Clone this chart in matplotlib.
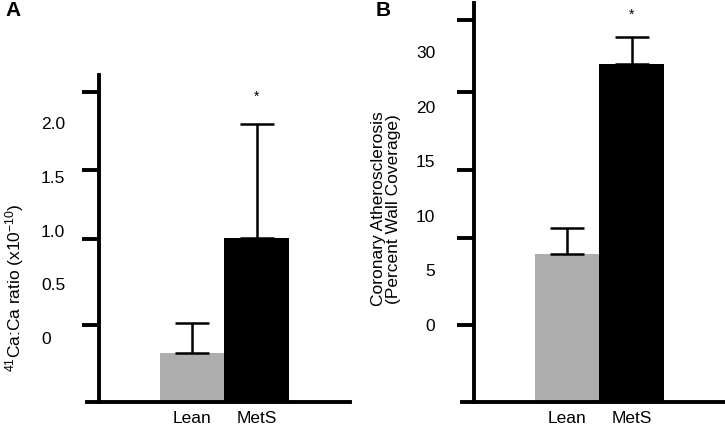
import numpy as np
import matplotlib
matplotlib.use("Agg")
import matplotlib.pyplot as plt

plt.rcParams['font.family'] = ['Liberation Sans', 'DejaVu Sans']
plt.rcParams['mathtext.fontset'] = 'custom'
plt.rcParams['mathtext.rm'] = 'Liberation Sans'
plt.rcParams['mathtext.it'] = 'Liberation Sans:italic'

groups = ["Lean", "MetS"]
bar_colors = ["#adadad", "#000000"]

# panel A: 41Ca:Ca ratio (values read on the printed label scale)
ca_mean = [-0.14, 0.93]
ca_err = [0.28, 1.06]
ca_ylim = (-0.595, 2.447)
ca_tick_marks = [0.121, 0.921, 1.563, 2.288]
ca_label_pos = [0, 0.5, 1.0, 1.5, 2.0]
ca_label_txt = ["0", "0.5", "1.0", "1.5", "2.0"]
ca_star = 2.242

# panel B: coronary atherosclerosis (% wall coverage)
ath_mean = [6.5, 23.9]
ath_err = [2.4, 2.5]
ath_ylim = (-7.06, 29.5)
ath_tick_marks = [0, 7.95, 14.22, 21.35, 27.92]
ath_label_pos = [0, 5, 10, 15, 20, 25]
ath_label_txt = ["0", "5", "10", "15", "20", "30"]
ath_star = 28.44

W, H = 725, 425
fig = plt.figure(figsize=(W / 100, H / 100), dpi=100)


def panel(left_px, top_px, mean, err, ylim, marks, lpos, ltxt, star, ha, pad):
    ax = fig.add_axes([left_px / W, (H - 402) / H, 263 / W, (402 - top_px) / H])
    x = np.arange(len(groups))
    mean = np.array(mean)
    ax.bar(x, mean - ylim[0], bottom=ylim[0], width=1.0, color=bar_colors,
           yerr=[np.zeros(len(err)), err], capsize=12,
           error_kw=dict(ecolor="black", elinewidth=1.8, capthick=1.8))
    ax.set_xlim(-1.63, 2.45)
    ax.set_ylim(*ylim)
    for s in ["top", "right"]:
        ax.spines[s].set_visible(False)
    ax.spines["left"].set_position(("data", -1.44))
    ax.spines["left"].set_linewidth(2.8)
    ax.spines["bottom"].set_linewidth(2.8)
    ax.set_xticks(x, labels=groups)
    ax.tick_params(axis="x", length=0, pad=6.5, labelsize=12.5)
    ax.yaxis.remove_overlapping_locs = False
    ax.set_yticks(marks, labels=[""] * len(marks))
    ax.tick_params(axis="y", which="major", length=12, width=2.8, direction="out")
    ax.set_yticks(lpos, labels=ltxt, minor=True)
    ax.tick_params(axis="y", which="minor", length=0, pad=pad, labelsize=12.5)
    for t in ax.get_yticklabels(minor=True):
        t.set_ha(ha)
    ax.text(1, star, "*", ha="center", va="center", fontsize=10)
    return ax


axA = panel(87, 75, ca_mean, ca_err, ca_ylim, ca_tick_marks,
            ca_label_pos, ca_label_txt, ca_star, "left", 42)
axB = panel(462, 3, ath_mean, ath_err, ath_ylim, ath_tick_marks,
            ath_label_pos, ath_label_txt, ath_star, "right", 28)

fig.text(15 / W, 1 - 288 / H, r"$^{41}$Ca:Ca ratio (x10$^{-10}$)",
         rotation=90, ha="center", va="center", fontsize=12.5)
fig.text(386 / W, 1 - 209 / H, "Coronary Atherosclerosis\n(Percent Wall Coverage)",
         rotation=90, ha="center", va="center", fontsize=12.5, linespacing=0.95)

fig.text(5 / W, 1 - 1 / H, "A", ha="left", va="top", fontsize=15, fontweight="bold")
fig.text(376 / W, 1 - 1 / H, "B", ha="left", va="top", fontsize=15, fontweight="bold")

fig.savefig("out.png", dpi=100)
